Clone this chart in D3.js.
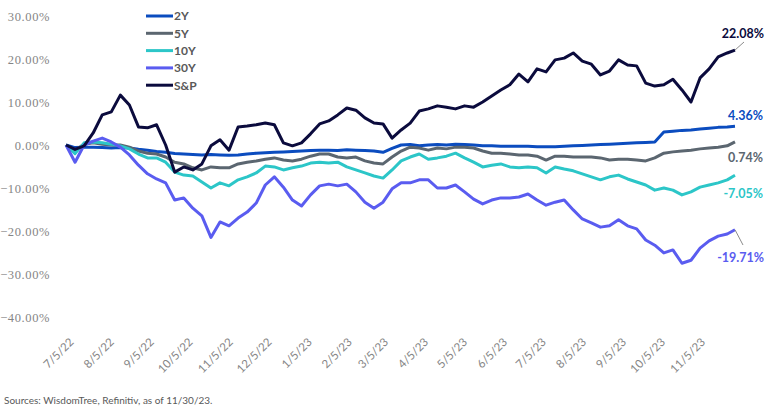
<!DOCTYPE html>
<html>
<head>
<meta charset="utf-8">
<script src="https://cdn.jsdelivr.net/npm/d3@7"></script>
<style>
  html, body { margin: 0; padding: 0; background: #fff; }
  svg { display: block; }
</style>
</head>
<body>
<svg id="chart" width="771" height="417"></svg>
<script>
const dates = [
  "2022-07-01","2022-07-08","2022-07-15","2022-07-22","2022-07-29","2022-08-05","2022-08-12","2022-08-19","2022-08-26",
  "2022-09-02","2022-09-09","2022-09-16","2022-09-23","2022-09-30","2022-10-07","2022-10-14","2022-10-21","2022-10-28",
  "2022-11-04","2022-11-11","2022-11-18","2022-11-25","2022-12-02","2022-12-09","2022-12-16","2022-12-23","2022-12-30",
  "2023-01-06","2023-01-13","2023-01-20","2023-01-27","2023-02-03","2023-02-10","2023-02-17","2023-02-24","2023-03-03",
  "2023-03-10","2023-03-17","2023-03-24","2023-03-31","2023-04-07","2023-04-14","2023-04-21","2023-04-28","2023-05-05",
  "2023-05-12","2023-05-19","2023-05-26","2023-06-02","2023-06-09","2023-06-16","2023-06-23","2023-06-30","2023-07-07",
  "2023-07-14","2023-07-21","2023-07-28","2023-08-04","2023-08-11","2023-08-18","2023-08-25","2023-09-01","2023-09-08",
  "2023-09-15","2023-09-22","2023-09-29","2023-10-06","2023-10-13","2023-10-20","2023-10-27","2023-11-03","2023-11-10",
  "2023-11-17","2023-11-24","2023-11-30"
];

const y2 = [0,-0.6,-0.5,-0.5,-0.6,-0.7,-0.6,-0.7,-1.0,-1.2,-1.5,-1.7,-2.0,-2.1,-2.2,-2.3,-2.2,-2.3,-2.4,-2.3,-2.1,-1.9,-1.8,-1.7,-1.6,-1.5,-1.4,
  -1.3,-1.2,-1.2,-1.3,-1.1,-1.2,-1.3,-1.4,-1.7,-0.8,0.0,0.1,-0.2,0.0,0.1,0.0,0.2,0.1,0.0,-0.2,-0.2,-0.3,-0.3,-0.3,-0.3,-0.4,-0.4,
  -0.4,-0.3,-0.2,-0.1,0.0,0.1,0.2,0.3,0.4,0.5,0.6,0.7,3.0,3.2,3.4,3.5,3.7,3.9,4.1,4.2,4.36];

const y5 = [0,-1.2,0.2,0.5,0.2,0,0,-0.5,-1.4,-1.9,-2.1,-2.8,-4.0,-4.4,-5.3,-5.8,-5.1,-5.3,-5.3,-4.4,-4.0,-3.7,-3.3,-3.0,-3.5,-3.7,-3.3,
  -2.6,-2.1,-2.1,-2.8,-3.0,-2.8,-3.7,-4.2,-4.4,-2.8,-1.4,-0.5,-0.7,-1.2,-0.7,-0.9,-0.5,-0.5,-0.7,-1.4,-1.9,-1.9,-2.1,-2.3,-2.3,-2.6,-3.5,
  -2.6,-2.6,-2.8,-2.8,-2.8,-3.0,-3.5,-3.3,-3.3,-3.5,-3.7,-3.0,-1.9,-1.6,-1.4,-1.2,-0.9,-0.7,-0.5,-0.2,0.74];

const y10 = [0,-2.0,0.5,0.7,0.5,0.2,-0.2,-0.9,-2.1,-3.0,-3.0,-4.0,-6.3,-7.0,-7.2,-8.6,-10.0,-8.8,-9.5,-8.1,-7.4,-6.5,-4.9,-5.1,-5.8,-5.3,-4.9,
  -4.2,-4.0,-4.2,-4.0,-5.1,-5.8,-6.5,-7.2,-7.7,-5.8,-3.7,-2.8,-2.1,-3.3,-3.0,-2.6,-1.9,-3.0,-4.0,-5.1,-4.7,-4.4,-5.1,-5.3,-5.1,-5.3,-6.5,
  -5.1,-5.6,-6.0,-6.7,-7.4,-8.1,-7.4,-7.0,-7.9,-8.6,-9.3,-10.5,-10.0,-10.5,-11.6,-10.9,-9.8,-9.3,-8.8,-8.1,-7.05];

const y30 = [0,-4.0,0,0.9,1.6,0.7,-0.5,-2.3,-4.7,-6.7,-7.9,-8.8,-12.8,-12.3,-14.7,-16.5,-21.5,-17.9,-18.8,-17.0,-15.6,-13.5,-9.3,-7.4,-9.8,-12.8,-14.2,
  -11.6,-9.5,-9.1,-9.5,-9.1,-10.9,-13.3,-14.7,-13.3,-10.2,-8.8,-8.8,-8.1,-8.1,-10.0,-10.0,-9.3,-10.9,-12.6,-13.7,-12.8,-12.3,-12.3,-12.1,-11.4,-12.8,-14.0,
  -13.3,-12.8,-15.1,-17.2,-18.1,-19.1,-18.8,-17.4,-18.8,-19.5,-22.1,-23.3,-25.1,-24.4,-27.5,-26.8,-24.0,-22.3,-21.2,-20.7,-19.71];

const sp = [0,-1.0,-0.2,2.8,7.0,7.7,11.6,9.3,4.2,4.0,4.7,0,-6.3,-5.1,-5.8,-4.4,-0.2,1.2,-1.2,4.2,4.4,4.7,5.1,4.7,0.5,-0.2,0.5,
  2.6,4.9,5.6,7.0,8.6,8.1,6.3,5.1,4.9,1.6,3.5,5.1,7.9,8.4,9.1,8.8,8.4,9.1,8.8,10.0,11.4,12.8,14.0,16.5,14.7,17.7,17.0,
  19.8,20.2,21.4,19.5,18.8,16.3,17.2,19.8,18.6,18.4,14.4,13.7,14.0,15.3,12.8,10.0,15.6,17.7,20.5,21.4,22.08];

const seriesNames = ["2Y","5Y","10Y","30Y","S&P"];
const seriesColors = ["#0B4CBF","#5B6670","#2CC6C8","#5A5CF0","#0B0B3D"];
const seriesValues = [y2, y5, y10, y30, sp];
const endLabels = ["4.36%","0.74%","-7.05%","-19.71%","22.08%"];

const yTicks = [30,20,10,0,-10,-20,-30,-40];
const xTicks = ["2022-07-05","2022-08-05","2022-09-05","2022-10-05","2022-11-05","2022-12-05","2023-01-05","2023-02-05",
  "2023-03-05","2023-04-05","2023-05-05","2023-06-05","2023-07-05","2023-08-05","2023-09-05","2023-10-05","2023-11-05"];
const sourceText = "Sources: WisdomTree, Refinitiv, as of 11/30/23.";

const parse = d3.timeParse("%Y-%m-%d");
const svg = d3.select("#chart");

const x = d3.scaleTime()
  .domain([parse(dates[0]), parse(dates[dates.length - 1])])
  .range([66, 735]);
const y = d3.scaleLinear().domain([-40, 30]).range([317, 16]);

// Y axis labels
const yAxis = d3.axisLeft(y).tickValues(yTicks).tickSize(0).tickPadding(0)
  .tickFormat(d => d3.format(".2f")(d) + "%");
const gy = svg.append("g").attr("transform", "translate(50,0)").call(yAxis);
gy.select(".domain").remove();
gy.selectAll("text")
  .attr("fill", "#858585")
  .style("font-family", "'Liberation Serif', serif")
  .style("font-size", "12.5px")
  .style("letter-spacing", "0.6px");

// X axis labels
const xAxis = d3.axisBottom(x).tickValues(xTicks.map(parse)).tickSize(0)
  .tickFormat(d3.timeFormat("%-m/%-d/%y"));
const gx = svg.append("g").attr("transform", "translate(0,340)").call(xAxis);
gx.select(".domain").remove();
gx.selectAll("text")
  .attr("x", 0).attr("y", 0).attr("dy", "0.35em")
  .attr("text-anchor", "end")
  .attr("transform", "rotate(-45)")
  .attr("fill", "#858585")
  .style("font-family", "Lato, sans-serif")
  .style("font-size", "11.5px");

// Lines
const line = d3.line()
  .x((d, i) => x(parse(dates[i])))
  .y(d => y(d))
  .curve(d3.curveLinear);

seriesValues.forEach((vals, k) => {
  svg.append("path")
    .datum(vals)
    .attr("fill", "none")
    .attr("stroke", seriesColors[k])
    .attr("stroke-width", 3)
    .attr("stroke-linejoin", "round")
    .attr("d", line);
});

// Legend
const legend = svg.append("g").attr("transform", "translate(146,16)");
seriesNames.forEach((name, k) => {
  const g = legend.append("g").attr("transform", `translate(0,${k * 17.3})`);
  g.append("line").attr("x1", 0).attr("x2", 27).attr("y1", 0).attr("y2", 0)
    .attr("stroke", seriesColors[k]).attr("stroke-width", 3);
  g.append("text").attr("x", 28).attr("y", 0).attr("dy", "0.36em")
    .attr("fill", "#595959")
    .style("font-family", "Lato, sans-serif")
    .style("font-weight", "bold")
    .style("font-size", "12px")
    .text(name);
});

// End labels
const lastDate = parse(dates[dates.length - 1]);
const labelPos = [
  {dy: 115, anchor: 763},
  {dy: 157, anchor: 763},
  {dy: 193, anchor: 763},
  {dy: 257, anchor: 764},
  {dy: 33, anchor: 764}
];
seriesValues.forEach((vals, k) => {
  svg.append("text")
    .attr("x", labelPos[k].anchor)
    .attr("y", labelPos[k].dy)
    .attr("dy", "0.36em")
    .attr("text-anchor", "end")
    .attr("fill", seriesColors[k])
    .style("font-family", "Lato, sans-serif")
    .style("font-weight", "bold")
    .style("font-size", "12.5px")
    .text(endLabels[k]);
});
// Leader lines for S&P and 30Y
svg.append("line")
  .attr("x1", x(lastDate)).attr("y1", y(sp[sp.length - 1]))
  .attr("x2", 744).attr("y2", 42)
  .attr("stroke", "#8c8c8c").attr("stroke-width", 1);
svg.append("line")
  .attr("x1", x(lastDate)).attr("y1", y(y30[y30.length - 1]))
  .attr("x2", 743).attr("y2", 245)
  .attr("stroke", "#8c8c8c").attr("stroke-width", 1);

// Source
svg.append("text")
  .attr("x", 4).attr("y", 400).attr("dy", "0.35em")
  .attr("fill", "#595959")
  .style("font-family", "Lato, sans-serif")
  .style("font-size", "10px")
  .text(sourceText);
</script>
</body>
</html>
